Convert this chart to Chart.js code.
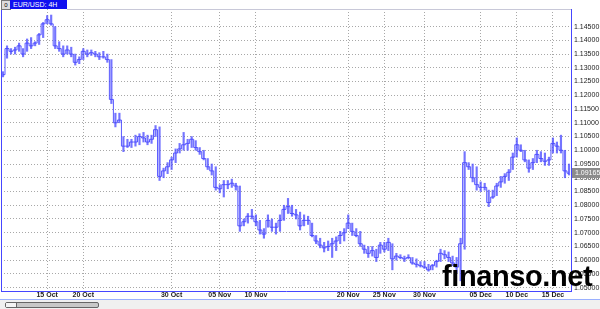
<!DOCTYPE html>
<html>
<head>
<meta charset="utf-8">
<script src="https://cdn.jsdelivr.net/npm/chart.js@4.4.1/dist/chart.umd.min.js"></script>
<style>
  html, body { margin: 0; padding: 0; background: #fff; }
  #wrap { position: relative; width: 600px; height: 309px; overflow: hidden; font-family: "Liberation Sans", Arial, sans-serif; }
  #box { position: absolute; left: 0; top: 0; width: 600px; height: 299px; }
  #title { position: absolute; left: 10px; top: 0; width: 54px; height: 9px; background: #1010f0; color: #fff; font-size: 7px; line-height: 9px; padding-left: 3px; }
  #icon { position: absolute; left: 1px; top: 0; width: 8px; height: 8px; background: #ddd; border: 1px solid #777; font-size: 6px; line-height: 8px; text-align: center; color: #000; }
  #bottom { position: absolute; left: 0; top: 299px; width: 600px; height: 10px; background: #f0f0f0; border-top: 1px solid #9ab0ff; }
  #thumb { position: absolute; left: 5px; top: 2px; width: 92px; height: 4px; background: #c8c8c8; border: 1px solid #666; border-radius: 2px; }
  #thumb:before { content: ""; position: absolute; left: 0; top: 0; width: 10px; height: 4px; background: #f4f4f4; border-right: 1px solid #666; }
  #mark { position: absolute; left: 442px; top: 260px; font: bold 29px "Liberation Sans", Arial, sans-serif; color: #000; letter-spacing: -0.4px; }
</style>
</head>
<body>
<div id="wrap">
  <div id="box"><canvas id="chart-eurusd"></canvas></div>
  <div id="icon">0</div>
  <div id="title">EUR/USD: 4H</div>
  <div id="bottom"><div id="thumb"></div></div>
  <div id="mark">finanso.net</div>
</div>
<script>
// 4H bars, one entry per bar
const lows = [
  1.1267,1.1335,1.135,1.135,1.136,1.134,1.136,1.137,1.138,1.1385,
  1.141,1.146,1.1455,1.137,1.136,1.134,1.135,1.134,1.131,1.1315,
  1.133,1.134,1.1345,1.134,1.133,1.1335,1.132,1.117,1.1085,1.110,
  1.0995,1.101,1.101,1.1015,1.102,1.103,1.102,1.1025,1.105,1.089,
  1.090,1.0915,1.093,1.0955,1.099,1.100,1.100,1.101,1.100,1.0985,
  1.0965,1.093,1.091,1.0855,1.0845,1.083,1.086,1.0865,1.0855,1.0705,
  1.0725,1.0735,1.075,1.0725,1.0695,1.068,1.072,1.0705,1.0695,1.0705,
  1.0745,1.077,1.076,1.075,1.071,1.0725,1.073,1.0685,1.066,1.0645,
  1.063,1.0635,1.061,1.0635,1.066,1.067,1.0715,1.069,1.0685,1.065,
  1.0625,1.061,1.0615,1.0595,1.0625,1.063,1.0635,1.0565,1.060,1.0605,
  1.0595,1.0605,1.0585,1.0575,1.0575,1.057,1.056,1.0565,1.0575,1.0595,
  1.0605,1.0595,1.058,1.0555,1.0525,1.064,1.093,1.0885,1.0855,1.085,
  1.0855,1.0795,1.0825,1.0835,1.0865,1.088,1.089,1.093,1.0975,1.0995,
  1.0958,1.092,1.093,1.0955,1.0958,1.0945,1.0945,1.099,1.099,1.099,
  1.090,1.091
];
const highs = [
  1.1286,1.138,1.137,1.1375,1.139,1.137,1.1405,1.141,1.1395,1.1425,
  1.1465,1.149,1.1492,1.145,1.1395,1.138,1.138,1.1375,1.135,1.134,
  1.137,1.1365,1.1365,1.136,1.1355,1.136,1.135,1.133,1.1135,1.1135,
  1.105,1.104,1.104,1.1055,1.106,1.1065,1.1055,1.1055,1.109,1.1085,
  1.0935,1.0955,1.0975,1.1005,1.1025,1.1065,1.104,1.105,1.1035,1.101,
  1.100,1.097,1.095,1.094,1.0875,1.089,1.089,1.0895,1.088,1.087,
  1.075,1.077,1.0785,1.0765,1.0745,1.0715,1.0765,1.075,1.0735,1.0765,
  1.080,1.0825,1.080,1.0785,1.0775,1.0765,1.076,1.0735,1.069,1.068,
  1.0665,1.067,1.068,1.0685,1.0705,1.0715,1.0765,1.0735,1.0715,1.0705,
  1.0655,1.065,1.065,1.064,1.0665,1.0665,1.068,1.066,1.0625,1.062,
  1.0615,1.062,1.061,1.0605,1.0595,1.0595,1.0585,1.0585,1.060,1.064,
  1.0635,1.063,1.0615,1.061,1.068,1.0995,1.0955,1.095,1.094,1.0885,
  1.088,1.0855,1.0855,1.088,1.0905,1.0915,1.093,1.099,1.1045,1.102,
  1.100,1.0965,1.097,1.100,1.0995,1.099,1.0975,1.1045,1.103,1.1055,
  1.100,1.095
];
const closes = [
  1.1275,1.137,1.136,1.1365,1.138,1.135,1.139,1.138,1.139,1.142,
  1.146,1.1475,1.146,1.138,1.137,1.135,1.1365,1.135,1.132,1.133,
  1.136,1.135,1.1355,1.135,1.134,1.134,1.133,1.1185,1.110,1.111,
  1.1015,1.1015,1.103,1.103,1.105,1.1045,1.103,1.104,1.1075,1.0905,
  1.0925,1.094,1.0965,1.099,1.1005,1.102,1.1025,1.104,1.101,1.0995,
  1.097,1.094,1.0925,1.0865,1.086,1.0875,1.0875,1.088,1.087,1.0725,
  1.074,1.076,1.076,1.074,1.071,1.0695,1.0745,1.072,1.072,1.0745,
  1.0785,1.0795,1.077,1.0765,1.0725,1.0745,1.0745,1.069,1.067,1.0655,
  1.0645,1.065,1.066,1.067,1.069,1.070,1.0735,1.0705,1.069,1.066,
  1.064,1.0625,1.0635,1.061,1.0655,1.064,1.0665,1.0605,1.0615,1.061,
  1.0605,1.061,1.059,1.0585,1.058,1.0575,1.0565,1.058,1.0595,1.0625,
  1.062,1.061,1.059,1.0575,1.066,1.0955,1.094,1.090,1.0875,1.0865,
  1.0865,1.081,1.083,1.087,1.0885,1.0905,1.092,1.0975,1.102,1.100,
  1.0965,1.0935,1.0955,1.0985,1.097,1.096,1.0965,1.1025,1.1015,1.100,
  1.0925,1.09165
];
// date labels and the bar they sit on
const dateLabels = ['15 Oct','20 Oct','30 Oct','05 Nov','10 Nov','20 Nov','25 Nov','30 Nov','05 Dec','10 Dec','15 Dec'];
const dateBars = [11,20,42,54,63,86,95,105,119,128,137];
const priceTicks = [1.050,1.055,1.060,1.065,1.070,1.075,1.080,1.085,1.090,1.095,
                    1.100,1.105,1.110,1.115,1.120,1.125,1.130,1.135,1.140,1.145];
const lastPrice = 1.09165;

const BLUE = 'rgb(70,70,255)';
const GRID = '#a8a8a8';
const labels = lows.map((v, i) => {
  const k = dateBars.indexOf(i);
  return k >= 0 ? dateLabels[k] : '';
});
const ranges = lows.map((v, i) => [v, highs[i]]);

// plot frame + current price tag
const framePlugin = {
  id: 'frame',
  afterDraw(chart) {
    const {ctx, chartArea: a, scales: {y}} = chart;
    ctx.save();
    ctx.strokeStyle = BLUE;
    ctx.lineWidth = 1;
    ctx.beginPath();
    ctx.moveTo(a.left + 0.5, a.top);
    ctx.lineTo(a.left + 0.5, a.bottom);
    ctx.stroke();
    ctx.strokeStyle = '#c8c8d8';
    ctx.beginPath();
    ctx.moveTo(67, a.top + 0.5);
    ctx.lineTo(a.right, a.top + 0.5);
    ctx.stroke();
    const py = Math.round(y.getPixelForValue(lastPrice));
    ctx.fillStyle = '#8c8c8c';
    ctx.fillRect(a.right + 1, py - 5, 29, 10);
    ctx.fillStyle = '#fff';
    ctx.font = '7px "Liberation Sans", Arial';
    ctx.textBaseline = 'middle';
    ctx.fillText(lastPrice.toFixed(5), a.right + 4, py + 0.5);
    ctx.restore();
  }
};

var ctx = document.getElementById('chart-eurusd');
var chart = new Chart(ctx, {
  data: {
    labels: labels,
    datasets: [
      {
        type: 'bar',
        data: ranges,
        backgroundColor: 'rgba(70,70,255,0.75)',
        barThickness: 1.5,
        borderWidth: 0,
        order: 2
      },
      {
        type: 'line',
        data: closes,
        borderColor: 'rgba(70,70,255,0.9)',
        borderWidth: 1,
        stepped: 'middle',
        pointRadius: 0,
        fill: false,
        order: 1
      }
    ]
  },
  plugins: [framePlugin],
  options: {
    responsive: true,
    maintainAspectRatio: false,
    animation: false,
    events: [],
    layout: { padding: { top: 9, left: 1, right: 0, bottom: 0 } },
    plugins: { legend: { display: false }, tooltip: { enabled: false } },
    scales: {
      x: {
        offset: true,
        border: { color: BLUE, width: 1, dash: [1, 2] },
        grid: {
          offset: false,
          drawTicks: false,
          color: (c) => (c.tick && c.tick.label ? GRID : 'rgba(0,0,0,0)')
        },
        ticks: {
          autoSkip: false,
          maxRotation: 0,
          padding: 0,
          color: '#222',
          font: { size: 7, family: '"Liberation Sans", Arial', weight: 'bold' },
          callback: (v, i) => labels[i]
        },
        afterFit: (s) => { s.height = 8; }
      },
      y: {
        position: 'right',
        min: 1.0488,
        max: 1.1514,
        border: { color: BLUE, width: 1, dash: [1, 2] },
        grid: { color: GRID, drawTicks: false },
        afterBuildTicks: (s) => { s.ticks = priceTicks.map(v => ({ value: v })); },
        ticks: {
          padding: 3,
          color: '#222',
          font: { size: 7, family: '"Liberation Sans", Arial' },
          callback: (v) => Number(v).toFixed(5)
        },
        afterFit: (s) => { s.width = 29; }
      }
    }
  }
});
</script>
</body>
</html>
